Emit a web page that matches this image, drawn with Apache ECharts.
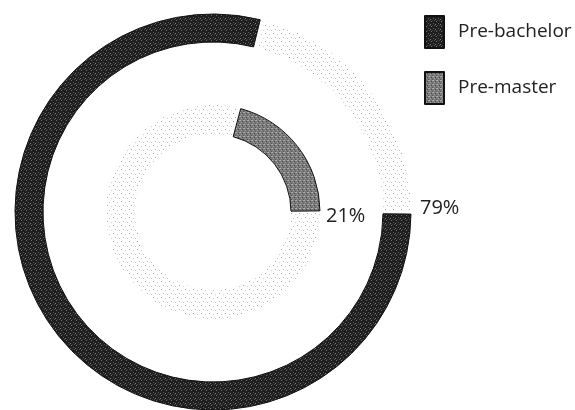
<!DOCTYPE html>
<html>
<head>
<meta charset="utf-8">
<script src="https://cdn.jsdelivr.net/npm/echarts@6/dist/echarts.min.js"></script>
<style>
  html, body { margin: 0; padding: 0; background: #fff; }
  #chart { width: 575px; height: 410px; }
</style>
</head>
<body>
<div id="chart"></div>
<script>
// Shares (percent) of each programme
const categories = ['Pre-bachelor', 'Pre-master'];
const shares = [79, 21];

// Small tiled textures that give the print-like halftone look
function texture(size, bg, dots) {
  const c = document.createElement('canvas');
  c.width = size; c.height = size;
  const g = c.getContext('2d');
  if (bg) { g.fillStyle = bg; g.fillRect(0, 0, size, size); }
  dots.forEach(([x, y, col]) => { g.fillStyle = col; g.fillRect(x, y, 1, 1); });
  return { image: c, repeat: 'repeat' };
}

const darkFill = texture(5, '#1e1e1e', [
  [1, 0, '#707070'], [3, 2, '#5a5a5a'], [0, 3, '#7e7e7e'], [4, 4, '#4e4e4e'], [2, 4, '#3c3c3c']
]);
const greyFill = texture(4, '#7a7a7a', [
  [0, 0, '#b0b0b0'], [2, 1, '#444'], [1, 2, '#9c9c9c'], [3, 3, '#555'], [3, 0, '#a5a5a5']
]);
const stipple = texture(8, null, [
  [1, 1, '#9a9a9a'], [5, 2, '#c8c8c8'], [3, 5, '#a8a8a8'], [7, 6, '#d2d2d2']
]);

const cx = 213, cy = 212;
const font = '"Open Sans", "Noto Sans", sans-serif';

const chart = echarts.init(document.getElementById('chart'), null, { renderer: 'canvas' });

chart.setOption({
  animation: false,
  legend: {
    data: categories,
    orient: 'vertical',
    left: 424,
    top: 15,
    padding: 0,
    itemWidth: 19,
    itemHeight: 32,
    itemGap: 22,
    icon: 'rect',
    selectedMode: false,
    textStyle: { fontFamily: font, fontSize: 19, color: '#222', padding: [0, 0, 0, 9] }
  },
  series: [
    {
      name: 'outer',
      type: 'pie',
      center: [cx, cy],
      radius: [170, 198],
      startAngle: 0,
      clockwise: true,
      padAngle: 1.2,
      silent: true,
      label: { show: false },
      labelLine: { show: false },
      data: [
        { name: categories[0], value: shares[0],
          itemStyle: { color: darkFill, borderColor: '#111', borderWidth: 1 } },
        { name: 'rest-outer', value: 100 - shares[0],
          itemStyle: { color: stipple } }
      ]
    },
    {
      name: 'inner',
      type: 'pie',
      center: [cx, cy],
      radius: [78, 107],
      startAngle: 0,
      clockwise: false,
      padAngle: 1.2,
      silent: true,
      label: { show: false },
      labelLine: { show: false },
      data: [
        { name: categories[1], value: shares[1],
          itemStyle: { color: greyFill, borderColor: '#111', borderWidth: 1 } },
        { name: 'rest-inner', value: 100 - shares[1],
          itemStyle: { color: stipple } }
      ]
    }
  ],
  graphic: [
    {
      type: 'text', left: 326, top: 206,
      style: { text: shares[1] + '%', fontFamily: font, fontSize: 20, fill: '#222' }
    },
    {
      type: 'text', left: 420, top: 198,
      style: { text: shares[0] + '%', fontFamily: font, fontSize: 20, fill: '#222' }
    }
  ]
});
</script>
</body>
</html>
